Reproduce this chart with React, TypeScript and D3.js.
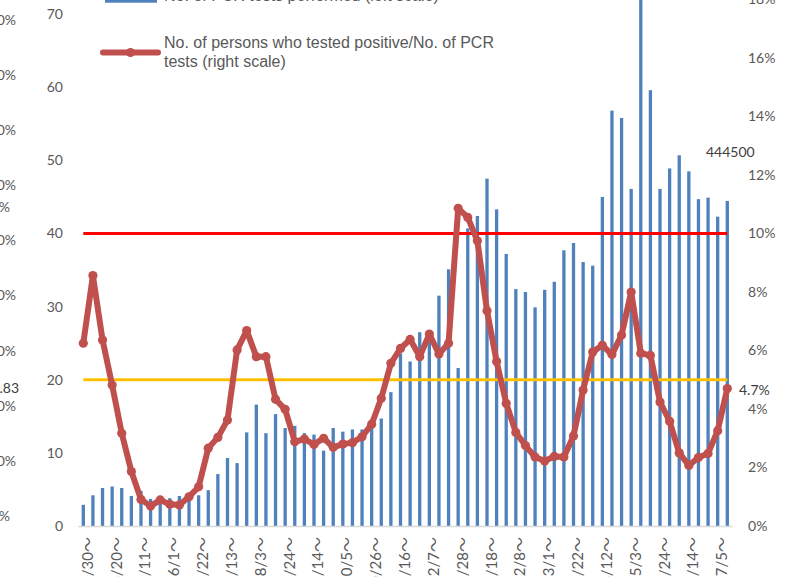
import React from 'react';
import * as d3 from 'd3';

// weekly categories (week starting), 3/30/2020 .. 7/12/2021
const weeks = [
  '3/30', '4/6', '4/13', '4/20', '4/27', '5/4', '5/11', '5/18', '5/25', '6/1',
  '6/8', '6/15', '6/22', '6/29', '7/6', '7/13', '7/20', '7/27', '8/3', '8/10',
  '8/17', '8/24', '8/31', '9/7', '9/14', '9/21', '9/28', '10/5', '10/12', '10/19',
  '10/26', '11/2', '11/9', '11/16', '11/23', '11/30', '12/7', '12/14', '12/21', '12/28',
  '1/4', '1/11', '1/18', '1/25', '2/1', '2/8', '2/15', '2/22', '3/1', '3/8',
  '3/15', '3/22', '3/29', '4/5', '4/12', '4/19', '4/26', '5/3', '5/10', '5/17',
  '5/24', '5/31', '6/7', '6/14', '6/21', '6/28', '7/5', '7/12',
];

// No. of PCR tests performed (x10,000) - left scale
const pcrTests = [
  2.9, 4.2, 5.2, 5.4, 5.2, 4.1, 4.8, 3.7, 3.5, 3.8,
  4.1, 4.2, 4.2, 4.9, 7.1, 9.3, 8.6, 12.8, 16.6, 12.7,
  15.3, 13.4, 13.7, 12.7, 12.5, 10.3, 13.4, 12.9, 13.2, 13.2,
  13.6, 14.7, 18.3, 23.6, 22.5, 26.5, 26.4, 31.5, 35.1, 21.6,
  40.7, 42.4, 47.5, 43.3, 37.2, 32.4, 32.0, 29.9, 32.3, 33.4,
  37.7, 38.7, 36.1, 35.6, 45.0, 56.8, 55.8, 46.1, 76, 59.6,
  46.1, 48.9, 50.7, 48.5, 44.7, 44.9, 42.3, 44.45,
];

// positives / PCR tests (%) - right scale
const positiveRate = [
  6.25, 8.56, 6.36, 4.82, 3.17, 1.86, 0.91, 0.68, 0.89, 0.74,
  0.72, 1.0, 1.34, 2.66, 3.03, 3.62, 6.02, 6.68, 5.79, 5.79,
  4.33, 3.99, 2.88, 2.97, 2.79, 3.0, 2.69, 2.8, 2.85, 3.05,
  3.48, 4.37, 5.56, 6.07, 6.38, 5.79, 6.56, 5.88, 6.25, 10.86,
  10.55, 9.75, 7.36, 5.62, 4.19, 3.2, 2.75, 2.36, 2.22, 2.38,
  2.36, 3.08, 4.65, 5.95, 6.18, 5.86, 6.53, 8.0, 5.91, 5.83,
  4.24, 3.58, 2.5, 2.07, 2.34, 2.48, 3.26, 4.7,
];

const leftTicks = [0, 10, 20, 30, 40, 50, 60, 70, 80];
const rightTicks = [0, 2, 4, 6, 8, 10, 12, 14, 16, 18, 20];
const redLevel = 10; // %
const yellowLevel = 5; // %
const lastBarLabel = '444500';
const lastRateLabel = '4.7%';
// labels of a neighbouring chart, cut off at the left edge
const ghostLabels = ['%', '0%', '0%', '0%', '0%', '0%', '0%', '0%', '0%', '0%'];

const W = 791;
const H = 577;
const GREY = '#595959';
const NUM_FONT = 'Lato, "Open Sans", sans-serif';
const TXT_FONT = '"Liberation Sans", Arial, sans-serif';
const CAT_FONT = 'Lato, "Noto Sans CJK JP", sans-serif';

export default function App() {
  const x = d3.scaleBand<number>().domain(weeks.map((_, i) => i)).range([78.5, 732.1]);
  const yL = d3.scaleLinear().domain([0, 80]).range([526, -59]);
  const yR = d3.scaleLinear().domain([0, 20]).range([526, -59]);
  const yGhost = d3.scaleLinear().domain([0, 9]).range([516, 20]);
  const cx = (i: number) => (x(i) as number) + x.bandwidth() / 2;

  const line = d3.line<number>().x((_, i) => cx(i)).y((d) => yR(d));
  const first = cx(0);
  const last = cx(weeks.length - 1);

  return (
    <svg width={W} height={H} style={{ position: 'absolute', left: 0, top: 0, background: '#fff' }}>
      {/* cut off axis of the chart on the left */}
      {ghostLabels.map((t, i) => (
        <text key={'g' + i} x={t === '%' ? 10 : 16} y={yGhost(i)} dy="0.35em" textAnchor="end"
          fontSize={14} fontFamily={NUM_FONT} fill={GREY}>{t}</text>
      ))}
      <text x={10} y={207} dy="0.35em" textAnchor="end" fontSize={14} fontFamily={NUM_FONT} fill={GREY}>%</text>
      <text x={19} y={388} dy="0.35em" textAnchor="end" fontSize={14} fontFamily={NUM_FONT} fill="#404040">.83</text>

      {/* left axis */}
      {leftTicks.map((t) => (
        <text key={'l' + t} x={63} y={yL(t)} dy="0.35em" textAnchor="end"
          fontSize={14} fontFamily={NUM_FONT} fill={GREY}>{t}</text>
      ))}
      {/* right axis */}
      {rightTicks.map((t) => (
        <text key={'r' + t} x={748} y={yR(t)} dy="0.35em" textAnchor="start"
          fontSize={14} fontFamily={NUM_FONT} fill={GREY}>{t}%</text>
      ))}

      {/* bars */}
      {pcrTests.map((v, i) => (
        <rect key={'b' + i} x={cx(i) - 1.65} width={3.3} y={yL(v)} height={yL(0) - yL(v)} fill="#4F81BD" />
      ))}

      {/* base line */}
      <line x1={78.5} x2={732.1} y1={526.5} y2={526.5} stroke="#D9D9D9" strokeWidth={1.5} />

      {/* reference levels */}
      <line x1={first} x2={last} y1={yR(redLevel)} y2={yR(redLevel)} stroke="#FF0000" strokeWidth={2.8} />
      <line x1={first} x2={last} y1={yR(yellowLevel)} y2={yR(yellowLevel)} stroke="#FFC000" strokeWidth={2.8} />

      {/* positive rate */}
      <path d={line(positiveRate) || ''} fill="none" stroke="#C0504D" strokeWidth={6} strokeLinejoin="round" />
      {positiveRate.map((v, i) => (
        <circle key={'p' + i} cx={cx(i)} cy={yR(v)} r={4.6} fill="#C0504D" />
      ))}

      {/* data labels */}
      <text x={706} y={152} dy="0.35em" fontSize={14} fontFamily={NUM_FONT} fill="#404040">{lastBarLabel}</text>
      <text x={739} y={390} dy="0.35em" fontSize={14} fontFamily={NUM_FONT} fill="#404040">{lastRateLabel}</text>

      {/* x axis labels */}
      {weeks.map((w, i) => (i % 3 === 0 ? (
        <text key={'x' + i} transform={`translate(${cx(i) + 9.5},537) rotate(-90)`} textAnchor="end"
          fontSize={15} fontFamily={CAT_FONT} fill={GREY}>{w}～</text>
      ) : null))}

      {/* legend */}
      <rect x={105} y={-8} width={52} height={10.7} fill="#4F81BD" />
      <text x={164} y={0.5} fontSize={16} fontFamily={TXT_FONT} fill={GREY}>No. of PCR tests performed (left scale)</text>
      <line x1={103} x2={158} y1={52.5} y2={52.5} stroke="#C0504D" strokeWidth={6} strokeLinecap="round" />
      <circle cx={130.5} cy={52.5} r={4.6} fill="#C0504D" />
      <text x={164} y={47.5} fontSize={16} fontFamily={TXT_FONT} fill={GREY}>No. of persons who tested positive/No. of PCR</text>
      <text x={164} y={67} fontSize={16} fontFamily={TXT_FONT} fill={GREY}>tests (right scale)</text>
    </svg>
  );
}
